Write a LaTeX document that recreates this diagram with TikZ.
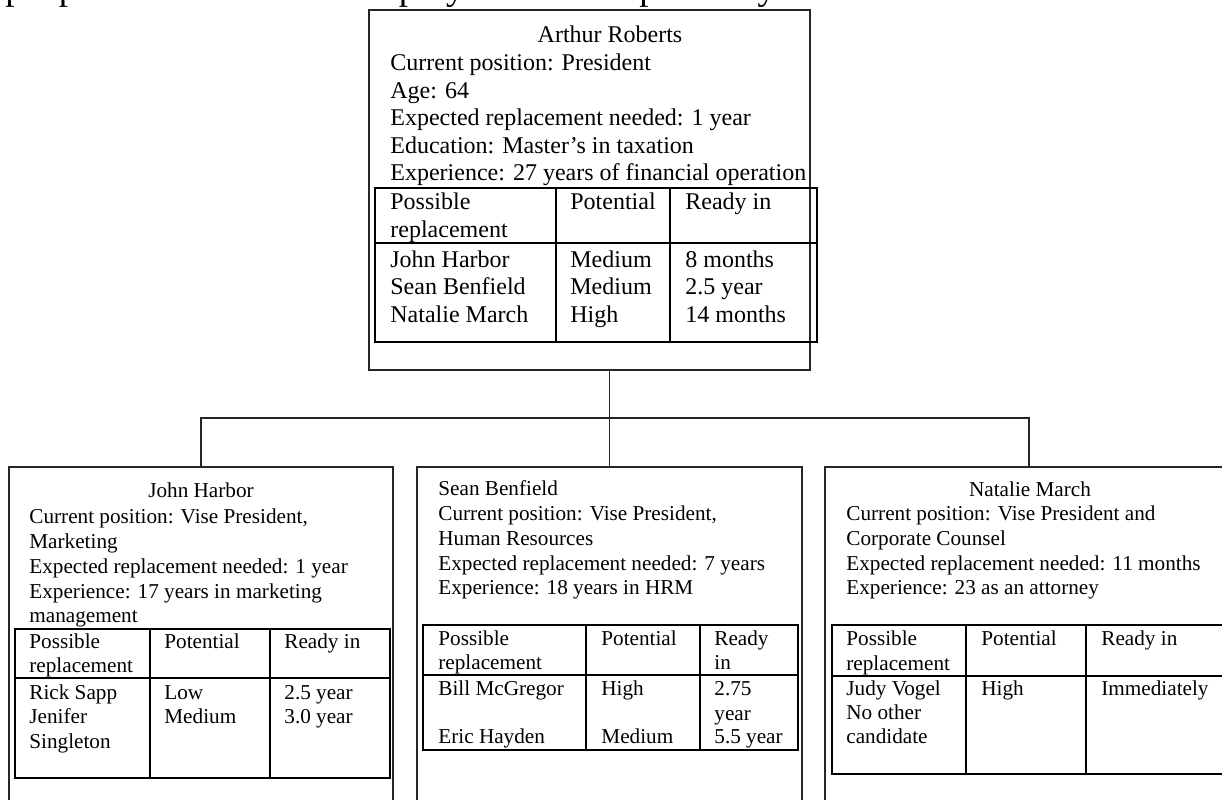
\documentclass[tikz,border=0pt]{standalone}
\usepackage{fontspec}
\setmainfont{Liberation Serif}
\usetikzlibrary{fit}
\begin{document}
\begin{tikzpicture}[x=0.5pt,y=-0.5pt,
  box/.style={draw=black!85, line width=1pt, rectangle, inner sep=0pt, outer sep=0pt},
  tbl/.style={draw=black, line width=1pt},
  link/.style={draw=black!85, line width=0.8pt},
  big/.style={font=\fontsize{12}{13.8}\selectfont, inner sep=0pt, anchor=base west},
  sm/.style={font=\fontsize{10.6}{12.3}\selectfont, inner sep=0pt, anchor=base west},
  ttl/.style={anchor=base}]
\useasboundingbox (0,0) rectangle (1222,799);
\clip (0,0) rectangle (1222,799);
\fill[white] (0,0) rectangle (1222,799);

% clipped line of page text
\node[anchor=base west, inner sep=0pt, font=\fontsize{18.5}{20}\selectfont] (intro) at (5,-0.5) {people. That's because employees are compelled by};

% boxes
\node[box, fit={(369,10) (810,370)}] (top) {};
\node[box, fit={(9,467) (393,870)}] (b1) {};
\node[box, fit={(417,467) (802,870)}] (b2) {};
\node[box, fit={(825,467) (1233,870)}] (b3) {};

% connectors
\coordinate (j) at (609,418);
\draw[link] (b2.north |- top.south) -- (b2.north);
\draw[link] (b1.north) -- (b1.north |- j) -- (b3.north |- j) -- (b3.north);

% ---- top box
\node[big, ttl] (t0) at (610,42.7) {Arthur Roberts};
\node[big] (t1) at (390,70.7) {Current position: President};
\node[big] (t2) at (390,98) {Age: 64};
\node[big] (t3) at (390,125.5) {Expected replacement needed: 1 year};
\node[big] (t4) at (390,153) {Education: Master’s in taxation};
\node[big] (t5) at (390,180.5) {Experience: 27 years of financial operation};
\draw[tbl] (375,188) rectangle (817,342);
\draw[tbl] (375,243) -- (817,243);
\draw[tbl] (556,188) -- (556,342);
\draw[tbl] (670,188) -- (670,342);
\node[big] (th1) at (390,209) {Possible};
\node[big] (th1b) at (390,237) {replacement};
\node[big] (th2) at (570,209) {Potential};
\node[big] (th3) at (685,209) {Ready in};
\node[big] (tr1a) at (390,267) {John Harbor};
\node[big] (tr2a) at (390,294.5) {Sean Benfield};
\node[big] (tr3a) at (390,322) {Natalie March};
\node[big] (tr1b) at (570,267) {Medium};
\node[big] (tr2b) at (570,294.5) {Medium};
\node[big] (tr3b) at (570,322) {High};
\node[big] (tr1c) at (685,267) {8 months};
\node[big] (tr2c) at (685,294.5) {2.5 year};
\node[big] (tr3c) at (685,322) {14 months};

% ---- left box
\node[sm, ttl] (l0) at (201,497) {John Harbor};
\node[sm] (l1) at (29,523) {Current position: Vise President,};
\node[sm] (l2) at (29,548) {Marketing};
\node[sm] (l3) at (29,573) {Expected replacement needed: 1 year};
\node[sm] (l4) at (29,598) {Experience: 17 years in marketing};
\node[sm] (l5) at (29,622) {management};
\draw[tbl] (15,629) rectangle (390,778);
\draw[tbl] (15,678) -- (390,678);
\draw[tbl] (150,629) -- (150,778);
\draw[tbl] (270,629) -- (270,778);
\node[sm] (lh1) at (29,648) {Possible};
\node[sm] (lh1b) at (29,672) {replacement};
\node[sm] (lh2) at (164,648) {Potential};
\node[sm] (lh3) at (284,648) {Ready in};
\node[sm] (lr1a) at (29,699) {Rick Sapp};
\node[sm] (lr2a) at (29,723) {Jenifer};
\node[sm] (lr2a2) at (29,748) {Singleton};
\node[sm] (lr1b) at (164,699) {Low};
\node[sm] (lr2b) at (164,723) {Medium};
\node[sm] (lr1c) at (284,699) {2.5 year};
\node[sm] (lr2c) at (284,723) {3.0 year};

% ---- middle box
\node[sm] (m0) at (438,495) {Sean Benfield};
\node[sm] (m1) at (438,520) {Current position: Vise President,};
\node[sm] (m2) at (438,545) {Human Resources};
\node[sm] (m3) at (438,570) {Expected replacement needed: 7 years};
\node[sm] (m4) at (438,594) {Experience: 18 years in HRM};
\draw[tbl] (423,625) rectangle (798,750);
\draw[tbl] (423,675) -- (798,675);
\draw[tbl] (586,625) -- (586,750);
\draw[tbl] (700,625) -- (700,750);
\node[sm] (mh1) at (438,645) {Possible};
\node[sm] (mh1b) at (438,669) {replacement};
\node[sm] (mh2) at (601,645) {Potential};
\node[sm] (mh3) at (714,645) {Ready};
\node[sm] (mh3b) at (714,669) {in};
\node[sm] (mr1a) at (438,695) {Bill McGregor};
\node[sm] (mr1b) at (601,695) {High};
\node[sm] (mr1c) at (714,695) {2.75};
\node[sm] (mr1c2) at (714,720) {year};
\node[sm] (mr2a) at (438,743) {Eric Hayden};
\node[sm] (mr2b) at (601,743) {Medium};
\node[sm] (mr2c) at (714,743) {5.5 year};

% ---- right box
\node[sm, ttl] (r0) at (1030,496) {Natalie March};
\node[sm] (r1) at (846,520) {Current position: Vise President and};
\node[sm] (r2) at (846,545.5) {Corporate Counsel};
\node[sm] (r3) at (846,570) {Expected replacement needed: 11 months};
\node[sm] (r4) at (846,594) {Experience: 23 as an attorney};
\draw[tbl] (832,625) rectangle (1240,774);
\draw[tbl] (832,676) -- (1240,676);
\draw[tbl] (966,625) -- (966,774);
\draw[tbl] (1086,625) -- (1086,774);
\node[sm] (rh1) at (846,645) {Possible};
\node[sm] (rh1b) at (846,670) {replacement};
\node[sm] (rh2) at (981,645) {Potential};
\node[sm] (rh3) at (1101,645) {Ready in};
\node[sm] (rr1a) at (846,695) {Judy Vogel};
\node[sm] (rr2a) at (846,719) {No other};
\node[sm] (rr2a2) at (846,743) {candidate};
\node[sm] (rr1b) at (981,695) {High};
\node[sm] (rr1c) at (1101,695) {Immediately};
\end{tikzpicture}
\end{document}
